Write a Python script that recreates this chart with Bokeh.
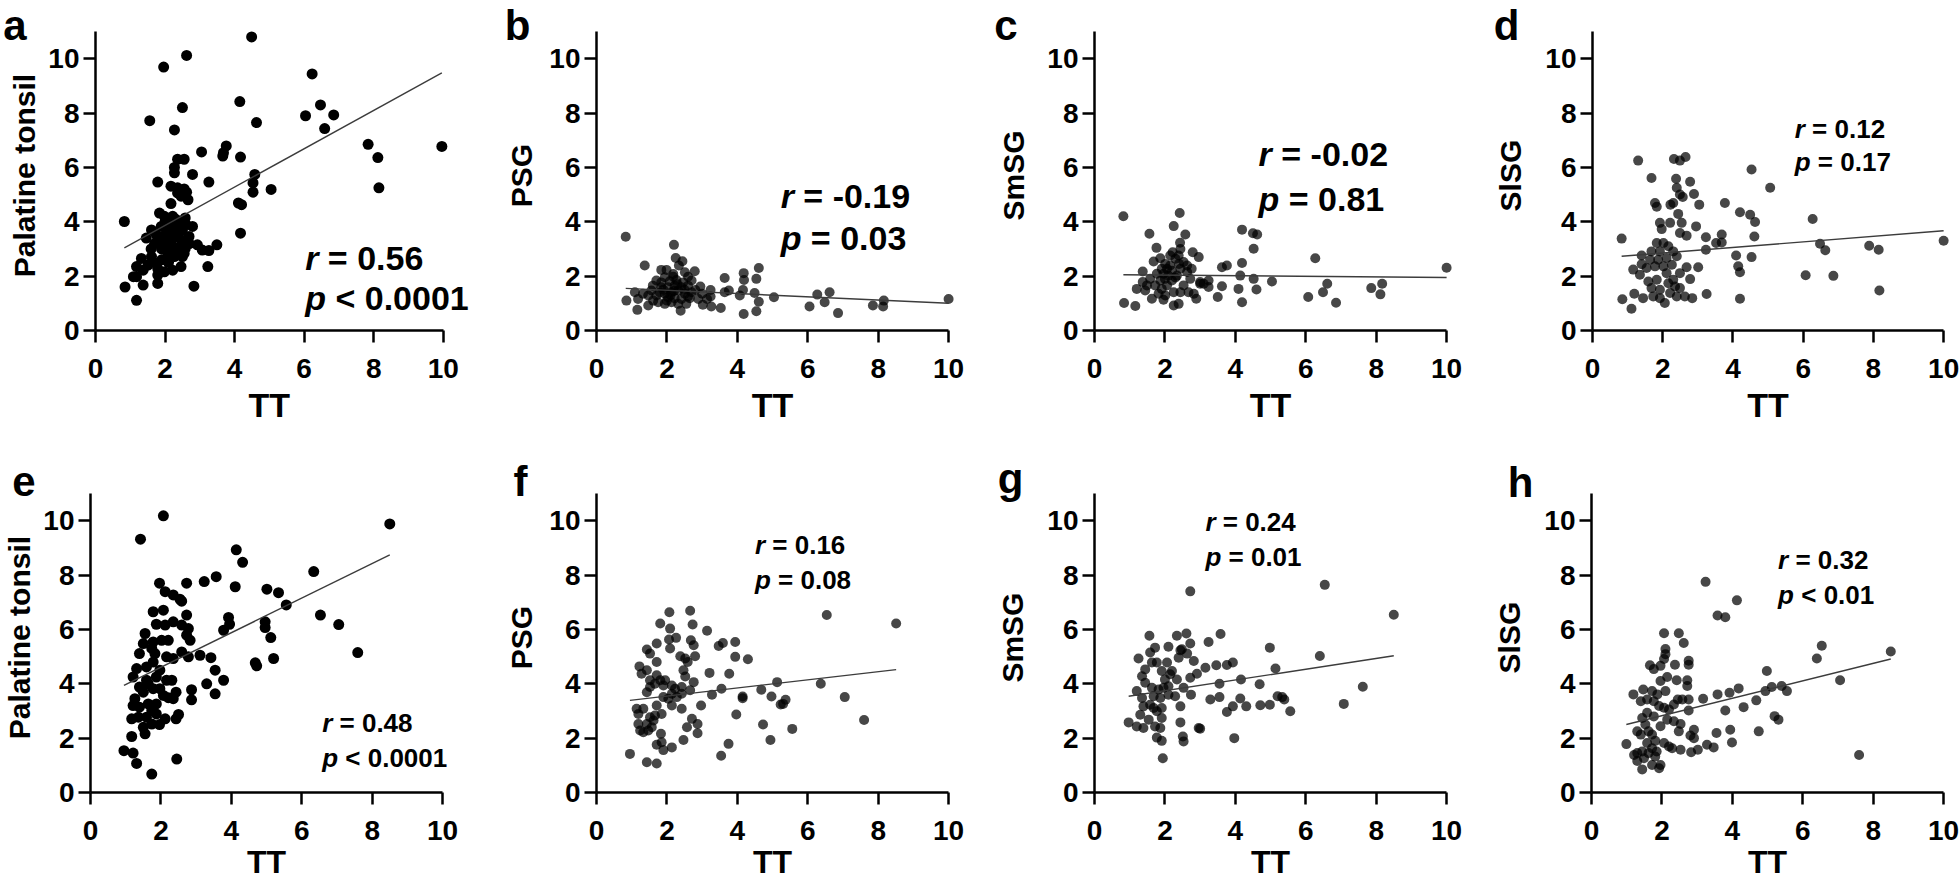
import json
from bokeh.plotting import figure
from bokeh.layouts import row, column
from bokeh.models import Label, FixedTicker, LinearAxis, CustomJSTickFormatter
from bokeh.embed import file_html
from bokeh.resources import INLINE

FONT = "Liberation Sans"

# ---------------- data (TT vs. tissue value) ----------------
pts_a = [(0.83,4.01),(0.85,1.60),(1.18,1.11),(1.56,7.72),(1.96,9.69),(2.62,10.12),(2.50,8.20),(2.27,7.38),
         (4.49,10.80),(4.15,8.42),(4.63,7.65),(6.23,9.44),(6.04,7.90),(6.47,8.30),(6.85,7.93),(6.59,7.43),
         (7.84,6.85),(8.12,6.36),(8.15,5.25),(9.96,6.77),(5.05,5.19),(4.58,5.74),(4.53,5.43),(4.53,5.09),
         (4.11,4.69),(4.20,4.63),(4.17,3.58),(4.17,6.38),(3.68,6.54),(3.76,6.79),(3.66,6.42),(3.05,6.57),
         (3.26,5.46),(3.49,3.15),(3.26,2.94),(3.23,2.35),(2.83,1.63),(2.79,5.74),(2.55,6.30),(2.36,6.30),
         (2.27,6.00),(2.27,5.80),(1.79,5.46),(2.17,5.31),(2.36,5.25),(2.55,5.21),(2.62,5.09),(2.36,5.06),
         (2.17,4.67),(2.66,4.81),(2.46,4.94),(1.84,4.32),(1.98,4.20),(2.22,4.20),(2.58,4.14),(2.41,4.01),
         (2.79,3.83),(1.61,3.70),(1.46,3.40),(1.75,3.52),(1.89,3.33),(2.08,3.58),(2.17,3.33),(2.31,3.52),
         (2.46,3.33),(2.69,3.46),(1.98,3.09),(2.22,3.09),(2.36,3.02),(2.58,3.02),(2.93,3.15),(3.07,2.96),
         (2.08,2.84),(2.27,2.72),(2.55,2.84),(1.32,2.65),(1.61,2.72),(1.75,2.47),(1.51,2.41),(1.18,2.35),
         (1.37,2.22),(1.79,2.28),(1.98,2.16),(2.22,2.22),(2.46,2.35),(1.18,1.98),(1.09,1.98),(1.37,1.67),
         (1.79,1.73),(1.79,2.04),(2.17,3.70),(1.89,3.83),(2.50,3.70),(2.12,3.27),(1.84,3.27),(2.50,2.72),
         (2.00,3.50),(2.10,3.90),(2.30,3.80),(2.40,3.60),(2.20,3.00),(1.90,3.00),(2.00,4.00),(2.30,4.10),
         (2.60,3.90),(2.70,3.20),(1.70,3.20),(1.90,2.60),(2.10,2.50),(2.40,2.90),(1.60,3.00)]

pts_b = [(0.83,3.45),(0.85,1.10),(1.37,2.39),(1.18,1.16),(1.16,0.76),(1.32,1.35),(1.47,0.92),(1.09,1.41),
         (2.20,3.15),(2.25,2.67),(2.44,2.55),(2.34,2.39),(1.84,2.23),(1.99,2.23),(1.70,1.84),(2.79,2.18),
         (2.60,1.98),(2.18,1.98),(2.95,1.62),(3.24,1.49),(3.24,1.25),(3.64,1.93),(3.76,1.47),(3.64,1.41),
         (3.53,0.83),(3.26,0.88),(3.02,0.95),(2.89,1.16),(4.18,2.11),(4.19,1.86),(4.16,1.49),(4.07,1.29),
         (4.18,0.61),(4.54,1.90),(4.61,2.30),(4.49,1.38),(4.61,1.06),(4.54,0.71),(5.04,1.22),(6.05,0.88),
         (6.27,1.32),(6.48,1.04),(6.62,1.41),(6.86,0.64),(7.85,0.92),(8.14,0.88),(8.16,1.10),(10.0,1.16),
         (1.56,1.47),(1.70,1.29),(1.84,1.59),(1.94,1.35),(2.03,1.59),(2.13,1.41),(2.22,1.65),(2.32,1.47),
         (2.41,1.59),(2.51,1.35),(2.60,1.65),(2.70,1.41),(2.81,1.49),(1.75,1.04),(1.94,0.98),(2.13,1.04),
         (2.32,0.98),(2.39,0.73),(2.55,0.98),(1.84,1.77),(2.08,1.81),(2.27,1.86),(2.46,1.77),(2.70,1.84),
         (1.60,1.65),(2.03,1.22),(2.22,1.19),(2.41,1.16),(2.65,1.19),(2.18,2.08),(1.94,1.96),(2.51,2.14),
         (1.47,1.29),(1.61,1.10),(3.00,1.35),(3.14,1.16),(1.90,1.50),(2.10,1.30),(2.30,1.70),(2.00,1.10),
         (2.50,1.50),(1.80,1.40),(2.20,1.45),(2.60,1.25)]

pts_c = [(0.82,4.20),(0.84,1.01),(1.16,0.90),(2.42,4.32),(2.25,3.84),(1.56,3.56),(1.76,3.04),(2.58,3.53),
         (2.43,3.23),(2.22,2.88),(2.79,2.88),(2.96,2.70),(1.68,2.54),(1.87,2.66),(1.37,2.17),(1.37,1.78),
         (1.20,1.53),(1.44,1.47),(1.63,1.17),(1.96,1.13),(2.25,0.92),(2.39,0.98),(2.89,1.17),(3.00,1.72),
         (3.24,1.84),(3.24,1.60),(3.50,1.23),(3.62,2.33),(3.76,2.39),(3.62,1.63),(4.19,3.71),(4.50,3.58),
         (4.62,3.53),(4.52,3.01),(4.19,2.48),(4.14,2.02),(4.52,1.90),(4.60,1.51),(4.09,1.53),(4.19,1.04),
         (5.04,1.80),(6.27,2.66),(6.07,1.23),(6.49,1.41),(6.61,1.72),(6.86,1.02),(7.86,1.56),(8.17,1.72),
         (8.12,1.33),(10.0,2.31),(1.58,1.90),(1.72,1.66),(1.87,1.84),(1.96,2.09),(2.06,2.27),(2.15,2.39),
         (2.10,2.02),(1.91,1.53),(2.06,1.66),(2.20,1.84),(2.34,2.02),(2.44,2.27),(2.53,2.52),(2.30,2.64),
         (2.15,2.76),(2.39,2.76),(2.63,2.15),(2.72,1.90),(2.53,1.66),(2.67,1.41),(2.82,1.35),(2.44,1.41),
         (2.25,1.41),(1.82,1.35),(2.01,1.29),(1.49,1.66),(1.77,2.09),(1.91,2.27),(2.01,2.45),(2.63,2.39),
         (2.44,3.00),(2.76,2.27),(3.00,1.78),(3.10,1.72),(2.20,2.20),(2.30,1.95),(2.00,1.90),(2.40,2.45)]

pts_d = [(0.83,3.38),(0.85,1.15),(1.11,0.80),(1.30,6.25),(1.68,5.61),(1.78,4.69),(1.83,4.55),(2.32,6.31),
         (2.49,6.25),(2.65,6.38),(2.38,5.58),(2.40,5.25),(2.49,5.00),(2.57,4.91),(2.30,4.69),(2.22,4.63),
         (2.78,5.47),(2.89,5.02),(3.04,4.63),(2.44,4.29),(1.92,3.96),(2.21,3.96),(1.97,3.73),(2.54,3.96),
         (2.49,3.59),(2.68,3.49),(2.95,3.83),(3.23,3.43),(3.23,2.97),(3.52,3.22),(3.68,3.24),(3.68,3.53),
         (3.77,4.69),(4.20,4.35),(4.49,4.26),(4.63,3.99),(4.61,3.46),(4.53,2.70),(4.09,2.76),(4.15,2.36),
         (4.20,2.14),(4.20,1.17),(4.53,5.92),(5.06,5.25),(6.27,4.10),(6.48,3.19),(6.63,2.95),(6.07,2.03),
         (6.86,2.01),(7.88,3.12),(8.15,2.97),(8.17,1.47),(10.0,3.30),(3.25,1.34),(3.01,2.33),(2.68,2.33),
         (2.78,1.89),(2.84,1.19),(2.63,1.25),(2.40,1.25),(2.06,1.01),(1.40,2.76),(1.40,2.44),(1.16,2.24),
         (1.35,2.05),(1.19,1.35),(1.44,1.19),(1.54,2.30),(1.59,1.80),(1.68,1.56),(1.73,1.25),(1.83,3.22),
         (1.92,2.91),(1.87,2.60),(1.78,2.36),(2.02,2.36),(2.11,2.11),(2.16,1.74),(1.92,1.50),(2.21,1.38),
         (2.30,1.87),(2.02,3.22),(2.16,3.10),(2.30,2.91),(2.40,2.73),(2.11,2.67),(2.26,2.42),(1.83,1.87),
         (1.68,2.91),(1.92,1.19),(2.49,2.11),(2.35,1.62),(2.49,1.56),(1.64,2.60)]

pts_e = [(0.95,1.54),(1.21,1.45),(1.31,1.07),(1.74,0.68),(1.17,2.06),(1.42,9.32),(2.07,10.18),(8.50,9.88),
         (4.14,8.93),(4.32,8.47),(4.11,7.57),(3.57,7.94),(3.23,7.76),(2.73,7.70),(1.96,7.70),(2.12,7.39),
         (2.35,7.27),(2.54,7.11),(2.59,7.04),(6.34,8.13),(5.01,7.48),(5.34,7.35),(5.56,6.90),(6.53,6.53),
         (7.05,6.18),(7.59,5.15),(4.96,6.28),(4.96,6.07),(5.12,5.70),(5.20,4.93),(4.68,4.77),(4.72,4.66),
         (3.92,6.44),(3.95,6.19),(3.78,5.97),(3.42,4.96),(3.54,4.50),(3.78,4.13),(3.30,4.00),(3.54,3.63),
         (2.87,3.78),(2.87,3.41),(2.45,1.23),(2.50,2.87),(2.43,2.71),(2.12,2.71),(1.96,2.50),(1.55,2.16),
         (1.50,2.40),(2.43,3.69),(2.21,3.49),(3.11,5.05),(2.78,4.99),(2.73,5.79),(2.78,6.03),(2.73,6.53),
         (2.35,6.28),(2.59,6.16),(1.78,6.65),(2.07,6.71),(1.87,6.19),(2.12,6.16),(1.55,5.85),(1.50,5.48),
         (1.78,5.54),(2.02,5.60),(2.21,5.60),(1.39,5.11),(1.74,5.30),(2.16,4.99),(2.35,4.93),(2.59,5.17),
         (1.31,4.56),(1.21,4.25),(1.59,4.62),(1.78,4.80),(1.97,4.50),(1.87,4.25),(2.16,4.13),(2.31,4.13),
         (1.59,4.13),(1.39,3.88),(1.78,3.82),(1.97,3.82),(1.50,3.69),(1.26,3.45),(1.21,3.20),(1.39,3.14),
         (1.64,3.26),(1.74,3.02),(1.87,3.26),(1.87,2.89),(1.59,2.77),(1.17,2.71),(1.36,2.77),(1.74,2.52),
         (2.07,3.57),(2.35,3.45),(1.83,5.11),(1.64,4.00),(2.83,5.60)]

pts_f = [(0.95,1.42),(1.43,1.11),(1.71,1.07),(1.22,4.64),(1.43,5.26),(1.52,5.11),(1.71,5.48),(1.81,6.22),
         (2.07,6.63),(2.09,6.03),(2.06,5.63),(2.09,5.30),(2.26,5.69),(2.66,6.69),(2.73,6.18),(2.68,5.60),
         (2.76,5.42),(2.80,5.01),(2.38,5.01),(2.52,4.93),(2.59,4.80),(2.52,4.27),(3.14,5.95),(3.47,5.39),
         (3.59,5.50),(3.94,5.54),(3.94,4.99),(4.30,4.90),(3.21,4.40),(3.77,4.37),(3.55,3.82),(3.28,3.60),
         (4.15,3.53),(4.15,3.47),(3.97,2.87),(4.68,3.78),(4.97,3.53),(5.13,4.06),(5.23,3.24),(5.37,3.41),
         (5.30,3.26),(4.73,2.50),(4.94,1.93),(5.56,2.34),(6.37,4.00),(6.54,6.53),(7.05,3.51),(7.60,2.67),
         (8.51,6.22),(3.75,1.79),(3.54,1.35),(2.97,3.20),(2.87,2.52),(2.87,2.18),(2.71,2.71),(2.47,1.93),
         (2.57,2.40),(2.14,1.66),(1.90,1.56),(1.85,1.85),(1.83,2.16),(1.71,1.76),(1.14,3.08),(1.19,2.89),
         (1.33,3.08),(1.19,2.52),(1.24,2.28),(1.33,2.22),(1.43,2.52),(1.52,2.77),(1.62,2.65),(1.57,2.40),
         (1.47,2.28),(1.66,2.83),(1.85,2.89),(1.71,3.20),(1.90,3.51),(2.04,3.45),(2.14,3.63),(2.28,3.51),
         (2.42,3.63),(2.23,3.82),(2.42,3.88),(2.14,3.94),(1.90,3.94),(1.66,4.00),(1.52,3.88),(1.43,3.69),
         (1.52,4.13),(1.71,4.31),(1.81,4.13),(1.95,4.13),(1.28,4.37),(1.43,4.50),(1.71,4.80),(2.14,3.20),
         (2.42,3.08),(2.66,3.76),(2.76,4.06),(2.47,4.50)]

pts_g = [(0.97,2.58),(1.94,1.26),(1.91,1.90),(1.77,2.02),(2.51,2.06),(2.53,1.88),(2.72,7.40),(1.56,5.77),
         (2.34,5.77),(2.61,5.85),(2.72,5.48),(2.10,5.36),(2.44,5.23),(2.63,5.11),(1.58,5.15),(1.72,5.33),
         (1.25,4.93),(3.24,5.54),(3.58,5.83),(3.46,4.68),(3.15,4.59),(3.76,4.69),(3.93,4.78),(3.55,4.00),
         (3.29,3.42),(3.55,3.51),(3.76,2.96),(3.93,3.17),(3.97,2.00),(4.16,4.16),(4.14,3.46),(4.31,3.17),
         (4.69,3.98),(4.71,3.21),(4.98,3.23),(4.98,5.33),(5.14,4.56),(5.20,3.54),(5.33,3.51),(5.39,3.42),
         (5.56,2.99),(6.40,5.02),(6.54,7.64),(7.08,3.26),(7.62,3.89),(8.50,6.54),(2.96,2.37),(2.44,2.58),
         (2.91,4.37),(2.82,4.84),(2.72,4.22),(2.74,3.60),(2.44,3.17),(2.29,3.54),(2.53,3.85),(1.20,3.73),
         (1.35,3.48),(1.39,3.17),(1.30,2.86),(1.20,2.43),(1.39,2.37),(1.54,2.68),(1.58,3.23),(1.68,3.11),
         (1.72,2.43),(1.87,2.37),(1.91,2.74),(1.77,2.99),(1.91,3.11),(1.68,3.54),(1.82,3.79),(1.63,3.85),
         (1.44,4.04),(1.35,4.28),(1.44,4.53),(1.63,4.78),(1.77,4.78),(1.91,4.47),(2.00,4.16),(2.10,3.91),
         (2.15,4.35),(2.06,4.78),(2.20,4.47),(2.34,4.16),(2.39,4.96),(2.48,5.27),(1.96,3.85),(1.87,3.48),
         (2.10,3.60),(3.00,2.35)]

pts_h = [(0.99,1.78),(1.19,3.61),(1.47,3.79),(1.44,0.85),(1.21,1.38),(1.30,1.16),(2.06,5.86),(2.10,5.28),
         (2.10,5.09),(2.06,4.91),(1.66,4.68),(1.77,4.54),(1.96,4.66),(2.15,4.25),(1.96,4.10),(2.48,5.86),
         (2.62,5.50),(2.76,4.85),(2.76,4.70),(2.37,4.70),(2.42,4.13),(2.72,4.13),(2.72,3.92),(3.24,7.75),
         (4.13,7.07),(3.58,6.51),(3.80,6.45),(6.54,5.40),(6.40,4.93),(8.50,5.19),(7.06,4.13),(7.60,1.38),
         (4.98,4.47),(5.12,3.88),(5.40,3.92),(5.55,3.73),(4.94,3.73),(4.68,3.39),(4.75,2.25),(5.20,2.81),
         (5.31,2.68),(4.32,3.14),(4.18,3.83),(3.92,3.67),(3.58,3.61),(3.17,3.45),(3.80,3.02),(3.94,2.31),
         (3.99,1.84),(3.55,2.19),(3.47,1.66),(3.28,1.76),(3.02,1.57),(2.83,1.48),(2.91,2.00),(2.81,2.10),
         (2.91,2.31),(2.76,3.02),(2.76,3.42),(2.53,2.52),(2.48,2.25),(2.53,1.57),(2.29,1.63),(2.20,1.69),
         (2.15,2.68),(1.96,1.01),(1.92,0.89),(1.40,3.36),(1.58,3.42),(1.77,3.36),(1.92,3.18),(2.06,3.12),
         (2.20,3.05),(2.34,3.24),(2.45,3.42),(2.58,3.42),(1.72,3.73),(1.87,3.61),(2.10,3.73),(1.44,2.74),
         (1.53,2.50),(1.62,2.25),(1.72,2.13),(1.81,1.90),(1.58,1.82),(1.72,1.63),(1.85,1.51),(1.62,1.45),
         (1.44,1.51),(1.49,1.26),(1.81,1.32),(1.72,1.01),(1.30,2.25),(1.40,2.13),(1.96,2.44),(1.77,2.80),
         (1.58,2.93),(1.30,1.45),(2.06,1.82),(2.34,2.62)]

# regression line ends (y at min TT, y at max TT)
fit_a = (3.04, 9.48)
fit_b = (1.55, 1.00)
fit_c = (2.05, 1.95)
fit_d = (2.73, 3.67)
fit_e = (3.94, 8.74)
fit_f = (3.39, 4.52)
fit_g = (3.54, 5.03)
fit_h = (2.50, 4.91)

labels_y = ["Palatine tonsil", "PSG", "SmSG", "SlSG"]
label_x = "TT"
letters = ["a", "b", "c", "d", "e", "f", "g", "h"]
r_text = ["0.56", "-0.19", "-0.02", "0.12", "0.48", "0.16", "0.24", "0.32"]
p_text = ["< 0.0001", "= 0.03", "= 0.81", "= 0.17", "< 0.0001", "= 0.08", "= 0.01", "< 0.01"]
ticks = [0, 2, 4, 6, 8, 10]

# ---------------- layout / styles ----------------
PXU = 35.21          # px per TT unit
PYU = 27.18          # px per y unit
TOP_PAD = 20         # top row canvases start this far above the page
col_w = [496, 494, 500, 469]
col_bl = [90, 100, 104, 101]
BR = 2

stat_pos = [(6.03, 2.67, 1.18, 34), (5.23, 4.96, 3.42, 34), (4.66, 6.48, 4.82, 34), (5.76, 7.40, 6.20, 26),
            (6.58, 2.55, 1.26, 26), (4.50, 9.12, 7.83, 26), (3.15, 9.96, 8.67, 26), (5.30, 8.56, 7.26, 26)]
# panel letter: (y, standoff); y-title standoff
letter_pos = [(11.22, 19), (11.22, 16), (11.22, 27), (11.22, 23),
              (11.46, 5), (11.46, 19), (11.54, 21), (11.40, 8)]
ytitle_standoff = [-41, -37, -39, -37, -27, -28, -35, -22]
LETTER_SIZE = "42px"
YTITLE_Y = 5.7
TT_X = 5.0

all_pts = [pts_a, pts_b, pts_c, pts_d, pts_e, pts_f, pts_g, pts_h]
all_fit = [fit_a, fit_b, fit_c, fit_d, fit_e, fit_f, fit_g, fit_h]


def style_axis(ax, standoff):
    ax.axis_line_width = 2.5
    ax.axis_line_color = "black"
    ax.major_tick_line_width = 2.5
    ax.major_tick_line_color = "black"
    ax.major_tick_out = 12
    ax.major_tick_in = 0
    ax.minor_tick_line_color = None
    ax.major_label_text_font = FONT
    ax.major_label_text_font_style = "bold"
    ax.major_label_text_font_size = "28px"
    ax.major_label_text_color = "black"
    ax.major_label_standoff = standoff


def text_axis(p, side, pos, text, size, standoff, orientation="horizontal"):
    ax = LinearAxis(ticker=FixedTicker(ticks=[pos]),
                    formatter=CustomJSTickFormatter(code="return %s;" % json.dumps(text)))
    ax.axis_line_color = None
    ax.major_tick_line_color = None
    ax.major_tick_out = 0
    ax.major_tick_in = 0
    ax.minor_tick_line_color = None
    ax.major_label_text_font = FONT
    ax.major_label_text_font_style = "bold"
    ax.major_label_text_font_size = size
    ax.major_label_text_color = "black"
    ax.major_label_standoff = standoff
    ax.major_label_orientation = orientation
    p.add_layout(ax, side)


def make_panel(i):
    rowi, col = divmod(i, 4)
    w = col_w[col]
    bl = col_bl[col]
    frame_w = w - bl - BR
    if rowi == 0:
        y_end = 12.14
        frame_h = 330
        bt, bb = TOP_PAD, 110
        tt_size, tt_standoff = "34px", 5
    else:
        y_end = 11.7
        frame_h = round(y_end * PYU)
        bt, bb = 792 - 440 - frame_h, 91
        tt_size, tt_standoff = "32px", 1
    h = bt + frame_h + bb
    p = figure(width=w, height=h, x_range=(0, frame_w / PXU), y_range=(0, y_end),
               output_backend="svg", toolbar_location=None,
               min_border_left=bl, min_border_right=BR,
               min_border_top=bt, min_border_bottom=bb)
    p.outline_line_color = None
    p.grid.visible = False
    p.background_fill_color = "white"
    p.border_fill_color = "white"

    style_axis(p.xaxis[0], 16)
    style_axis(p.yaxis[0], 4)
    p.xaxis.ticker = FixedTicker(ticks=ticks)
    p.yaxis.ticker = FixedTicker(ticks=ticks)
    p.xaxis.bounds = (0, 10)
    p.yaxis.bounds = (0, 11)

    # x title centred on the 0-10 axis
    text_axis(p, "below", TT_X, label_x, tt_size, tt_standoff)
    # panel letter, then the y title further out
    ly, lst = letter_pos[i]
    text_axis(p, "left", ly, letters[i], LETTER_SIZE, lst)
    text_axis(p, "left", YTITLE_Y, labels_y[col], "30px", ytitle_standoff[i], "vertical")

    pts = all_pts[i]
    xs = [a for a, _ in pts]
    ys = [b for _, b in pts]
    solid = (col == 0)
    p.scatter(xs, ys, size=11 if solid else 10, fill_color="black",
              fill_alpha=1.0 if solid else 0.72, line_color=None)
    fy0, fy1 = all_fit[i]
    p.line([min(xs), max(xs)], [fy0, fy1], line_color="#3c3c3c", line_width=1.4)

    tx, ty_r, ty_p, fs = stat_pos[i]
    for ty, sym, rest, w_sym in ((ty_r, "r", "= " + r_text[i], 0.389),
                                 (ty_p, "p", p_text[i], 0.611)):
        p.add_layout(Label(x=tx, y=ty, text=sym, text_font=FONT,
                           text_font_style="bold italic", text_font_size=f"{fs}px",
                           text_color="black", text_baseline="alphabetic", text_align="left"))
        p.add_layout(Label(x=tx, y=ty, x_offset=(w_sym + 0.278) * fs, text=rest, text_font=FONT,
                           text_font_style="bold", text_font_size=f"{fs}px",
                           text_color="black", text_baseline="alphabetic", text_align="left"))
    return p


figs = [make_panel(i) for i in range(8)]
top = row(*figs[:4], spacing=0, margin=(-TOP_PAD, 0, 0, 0))
bottom = row(*figs[4:], spacing=0)
layout = column(top, bottom, spacing=0)

open("out.html", "w").write(file_html(layout, INLINE))
